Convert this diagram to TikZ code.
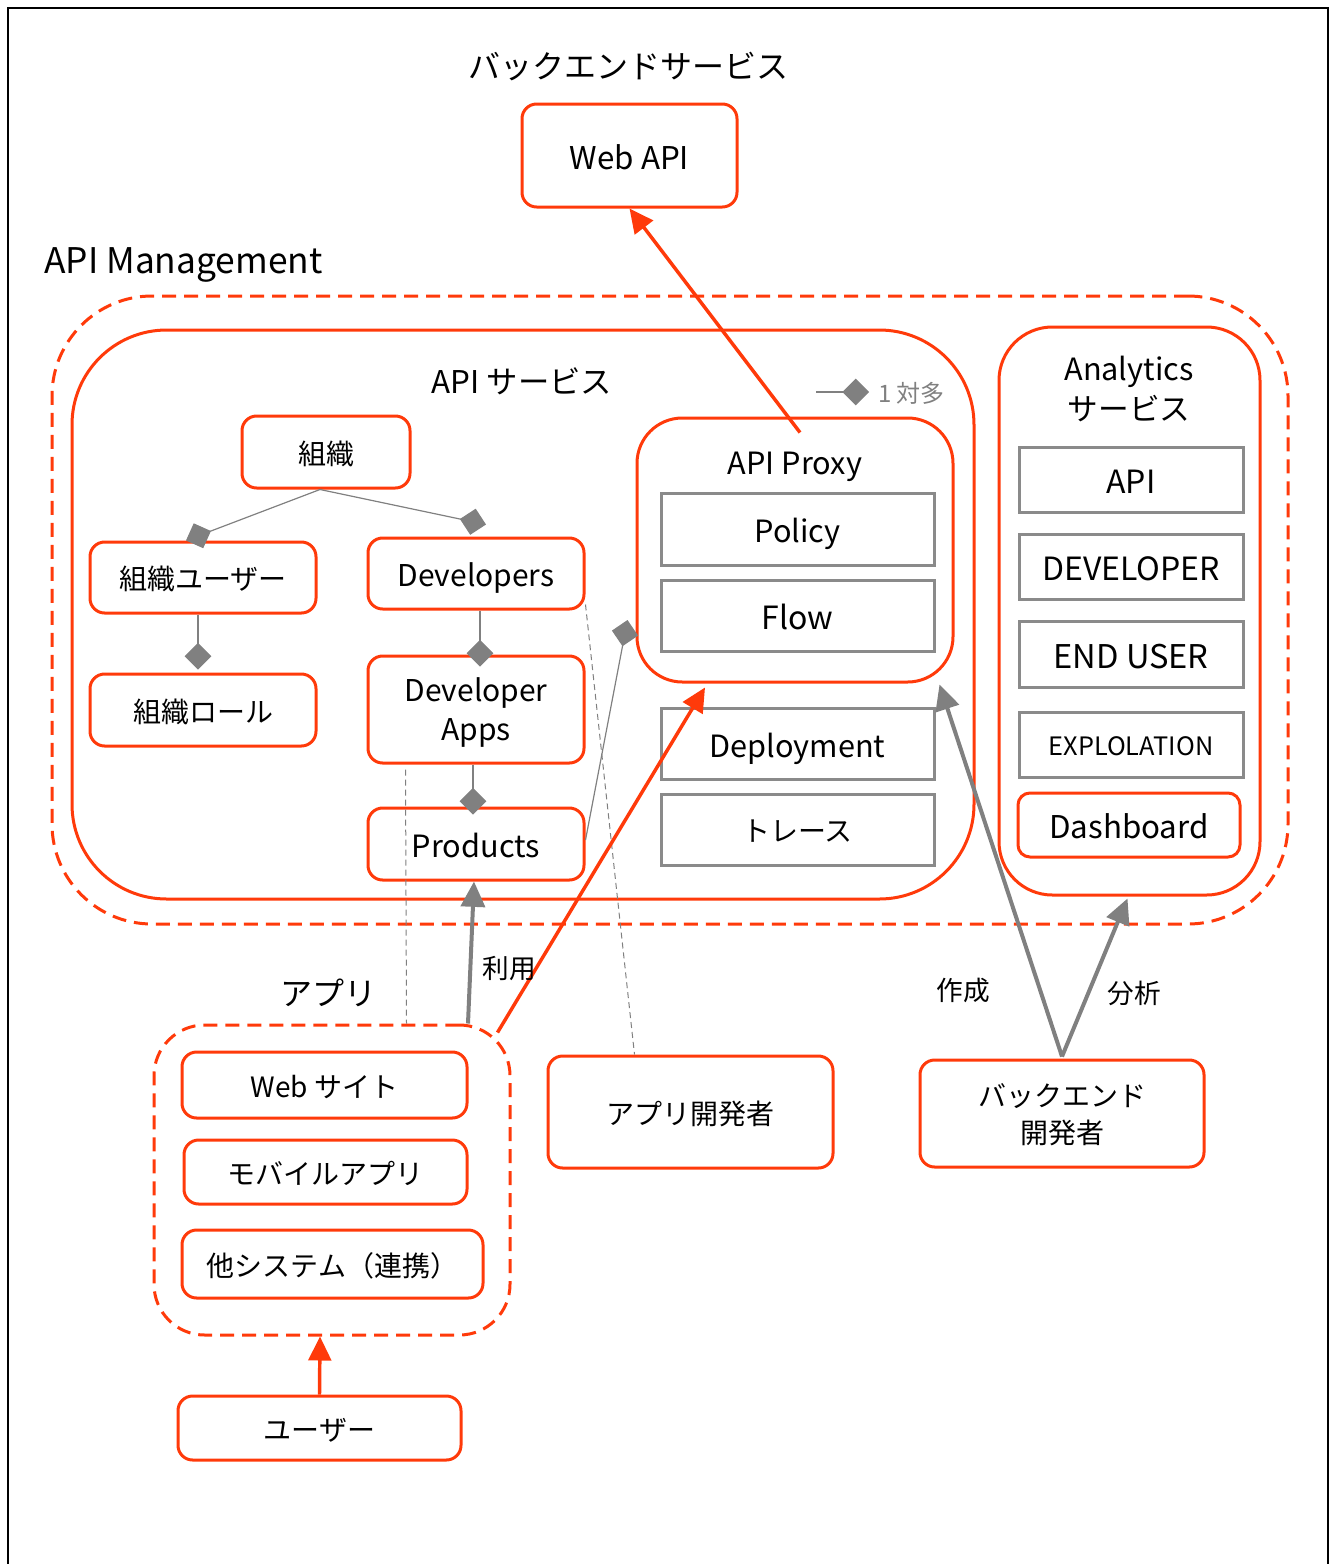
\documentclass[tikz,border=0pt]{standalone}
\usepackage{fontspec}
\setmainfont{Noto Sans CJK JP}
\usetikzlibrary{arrows.meta,calc}
\definecolor{accent}{HTML}{FF3A0A}
\definecolor{tone}{HTML}{808080}
\definecolor{boxgray}{HTML}{8A8A8A}

% a node spanning the pixel box (x1,y1)-(x2,y2)
\newcommand\spanbox[7]{\node[#1,minimum width={(#5-#3)*0.75pt},minimum height={(#6-#4)*0.75pt}] (#2) at ({(#3+#5)/2},{(#4+#6)/2}) {#7};}
\newcommand\fs[1]{\fontsize{#1pt}{\dimexpr #1pt*130/100\relax}\selectfont}

\begin{document}
\begin{tikzpicture}[x=0.75pt,y=-0.75pt,
  % one line of text of the given size, centred on its ideographic box
  ts/.style={font=\fs{#1},text height={0.94*#1pt},text depth={0.06*#1pt}},
  % several lines of text of the given size
  ms/.style={font=\fs{#1},text height={},text depth={}},
  redbox/.style={draw=accent,line width=2.25pt,rounded corners=11pt,align=center,inner sep=0pt,ts=21},
  graybox/.style={draw=boxgray,line width=2.25pt,align=center,inner sep=0pt,ts=23},
  region/.style={draw=accent,line width=2.25pt,inner sep=0pt},
  dashregion/.style={draw=accent,line width=2.25pt,inner sep=0pt,dash pattern=on 10.5pt off 6pt},
  link/.style={draw=tone,line width=0.9pt},
  owns/.style={link,-{Diamond[length=20pt,width=20pt,fill=tone]}},
  assoc/.style={draw=tone,line width=0.75pt,dash pattern=on 4.5pt off 3pt},
  grayarrow/.style={draw=tone,line width=3pt,-{Triangle[length=19pt,width=18pt]}},
  redarrow/.style={draw=accent,line width=2.6pt,-{Triangle[length=18pt,width=17pt]}},
  caption/.style={inner sep=0pt,ts=20}
]
\useasboundingbox (0,0) rectangle (1334,1564);
% outer frame (its lower edge lies below the page)
\draw[line width=1.8pt] (8,1620) -- (8,8) -- (1328,8) -- (1328,1620);

% backend
\node[caption,ts=24] (backtitle) at (628,64) {バックエンドサービス};
\spanbox{redbox,ts=23.5}{webapi}{522}{104}{737}{207}{Web API}

% API Management
\node[caption,ts=26.5,anchor=west] (mgmt) at (44,258) {API Management};
\spanbox{dashregion,rounded corners=75pt}{mgmtarea}{52}{296}{1288}{924}{}
\spanbox{region,rounded corners=71pt}{svc}{72}{330}{974}{899}{}
\node[caption,ts=23.5] (svctitle) at (522,380) {API サービス};

% legend
\coordinate (legA) at (816,392);
\coordinate (legB) at (869,392);
\draw[owns] (legA) -- (legB);
\node[caption,ts=18,text=tone,anchor=west] (legtext) at (878,392) {1 対多};

% organisation tree
\spanbox{redbox}{org}{242}{416}{410}{488}{組織}
\spanbox{redbox}{orguser}{90}{542}{316}{613}{組織ユーザー}
\spanbox{redbox,ts=22.5}{devs}{368}{538}{584}{609}{Developers}
\spanbox{redbox}{orgrole}{90}{674}{316}{746}{組織ロール}
\spanbox{redbox,ms=22.5,text depth=0pt}{apps}{368}{656}{584}{763}{Developer\\Apps}
\spanbox{redbox,ts=23}{prod}{368}{808}{584}{880}{Products}

% API proxy
\spanbox{region,rounded corners=34pt}{proxy}{637}{418}{953}{682}{}
\node[caption,ts=23] (proxytitle) at (795,461) {API Proxy};
\spanbox{graybox}{policy}{661}{493}{934}{565}{Policy}
\spanbox{graybox,ts=24}{flow}{661}{580}{934}{651}{Flow}
\spanbox{graybox}{deploy}{661}{708}{934}{779}{Deployment}
\spanbox{graybox,ts=21}{trace}{661}{794}{934}{865}{トレース}

% analytics
\spanbox{region,rounded corners=40pt}{ana}{999}{327}{1260}{895}{}
\node[caption,ms=23,align=center] (anatitle) at (1129,389) {Analytics\\サービス};
\spanbox{graybox,ts=24}{aapi}{1019}{447}{1243}{512}{API}
\spanbox{graybox,ts=24}{adev}{1019}{534}{1243}{599}{DEVELOPER}
\spanbox{graybox,ts=24.5}{auser}{1019}{621}{1243}{687}{END USER}
\spanbox{graybox,ts=19}{aexp}{1019}{712}{1243}{777}{EXPLOLATION}
\spanbox{redbox,rounded corners=9pt,ts=23.5}{adash}{1018}{793}{1240}{857}{Dashboard}

% client applications
\node[caption,ts=24] (apptitle) at (328,991) {アプリ};
\spanbox{dashregion,rounded corners=38pt}{appgrp}{154}{1025}{510}{1335}{}
\spanbox{redbox}{web}{182}{1052}{467}{1118}{Web サイト}
\spanbox{redbox}{mobile}{184}{1140}{467}{1204}{モバイルアプリ}
\spanbox{redbox}{other}{182}{1230}{483}{1298}{他システム（連携）}
\spanbox{redbox}{enduser}{178}{1396}{461}{1460}{ユーザー}

% developers
\spanbox{redbox}{appdev}{548}{1056}{833}{1168}{アプリ開発者}
\spanbox{redbox,ms=21,text depth=0pt}{backdev}{920}{1060}{1204}{1167}{バックエンド\\開発者}

% one-to-many links
\draw[owns] ($(org.south)+(-6,0)$) -- ($(orguser.north)+(-17,0)$);
\draw[owns] ($(org.south)+(-6,0)$) -- ($(devs.north)+(10,-12)$);
\draw[owns] ($(orguser.south)+(-5,0)$) -- ($(orgrole.north)+(-5,-3)$);
\draw[owns] ($(devs.south)+(4,0)$) -- ($(apps.north)+(4,12)$);
\draw[owns] ($(apps.south)+(-3,0)$) -- ($(prod.north)+(-3,8)$);
\draw[owns] ($(prod.east)+(0,-4)$) -- ($(proxy.west)+(-8,70)$);

% associations
\draw[assoc] ($(devs.south east)+(0,-6)$) -- ($(appdev.north west)+(88,0)$);
\draw[assoc] ($(apps.south west)+(39,5)$) -- ($(appgrp.north west)+(254,0)$);

% flows
\draw[redarrow] ($(proxy.north)+(5,16)$) -- (webapi.south);
\draw[redarrow] ($(appgrp.north east)+(-14,9)$) -- ($(proxy.south)+(-90,4)$);
\draw[redarrow] (enduser.north) -- ($(appgrp.south)+(-12,0)$);
\draw[grayarrow] ($(appgrp.north)+(136,0)$) -- ($(prod.south)+(-2,0)$);
\draw[grayarrow] ($(backdev.north)+(0,-2)$) -- ($(proxy.south east)+(-15,1)$);
\draw[grayarrow] ($(backdev.north)+(0,-2)$) -- ($(ana.south)+(-2,2)$);

\node[caption] (uselbl) at (509,967) {利用};
\node[caption] (makelbl) at (963,989) {作成};
\node[caption] (analbl) at (1134,992) {分析};
\end{tikzpicture}
\end{document}
